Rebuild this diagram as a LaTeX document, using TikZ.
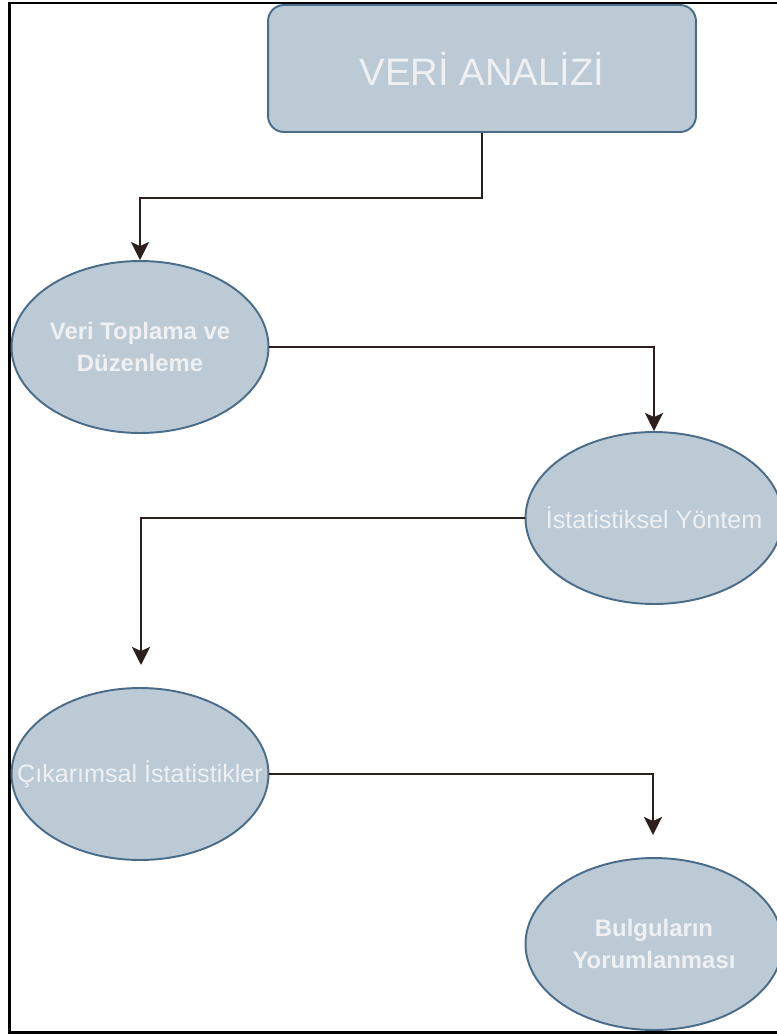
\documentclass[tikz,border=0pt]{standalone}
\usepackage{fontspec}
\setmainfont{Liberation Sans}
\usepackage{xcolor}
\usepackage{tikz}
\usetikzlibrary{shapes.geometric}
\usetikzlibrary{arrows.meta}
\usetikzlibrary{positioning}
\definecolor{boxfill}{HTML}{BCCAD6}
\definecolor{boxline}{HTML}{4A6C89}
\definecolor{boxtext}{HTML}{EEF0F2}
\definecolor{flowline}{HTML}{2E1F1F}
\tikzset{
    titlebox/.style={
        rectangle,
        rounded corners=0.32cm,
        draw=boxline,
        line width=1.1pt,
        fill=boxfill,
        minimum width=8.56cm,
        minimum height=2.54cm,
        text=boxtext,
        font=\fontsize{21.8}{26}\selectfont
    },
    stage/.style={
        ellipse,
        draw=boxline,
        line width=1.1pt,
        fill=boxfill,
        minimum width=5.14cm,
        minimum height=3.44cm,
        inner sep=0pt
    },
    stagetext/.style={
        text=boxtext,
        align=center,
        font=\fontsize{14.3}{18}\selectfont
    },
    stagebold/.style={
        stagetext,
        font=\fontsize{13.6}{18}\selectfont\bfseries
    },
    flow/.style={
        draw=flowline,
        line width=1.4pt,
        -{Stealth[length=0.36cm,width=0.36cm,inset=0.08cm]}
    }
}

\begin{document}
\begin{tikzpicture}[x=0.02cm, y=-0.02cm]
        \clip (0,0) rectangle (777,1035);
        \fill[white] (0,0) rectangle (777,1035);

        % outer frame (open on the right)
        \draw[line width=1.7pt] (777,3) -- (9.5,3) -- (9.5,1032) -- (777,1032);

        \node[titlebox] (analiz) at (482,68.5) {VERİ ANALİZİ};

        \node[stage, label={[stagebold]center:Veri Toplama ve\\Düzenleme}] (toplama) at (140,347) {};
        \node[stage, label={[stagetext]center:İstatistiksel Yöntem}] (yontem) at (654,518) {};
        \node[stage, label={[stagetext]center:Çıkarımsal İstatistikler}] (cikarim) at (140,774) {};
        \node[stage, label={[stagebold]center:Bulguların\\Yorumlanması}] (bulgu) at (654,944) {};

        \coordinate (ucA) at (141,665);
        \coordinate (ucB) at (653,835);

        \draw[flow] (analiz.south) -- ++(0,65) -| (toplama.north);
        \draw[flow] (toplama.east) -| (yontem.north);
        \draw[flow] (yontem.west) -| (ucA);
        \draw[flow] (cikarim.east) -| (ucB);
\end{tikzpicture}
\end{document}
